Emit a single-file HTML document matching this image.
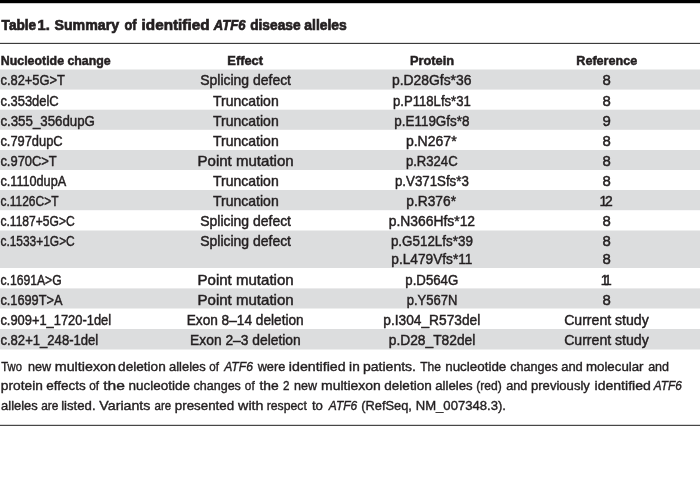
<!DOCTYPE html>
<html lang="en">
<head>
<meta charset="utf-8">
<title>Table 1. Summary of identified ATF6 disease alleles</title>
<style>
html,body{margin:0;padding:0;background:#fff;}
body{width:700px;height:495px;overflow:hidden;}
svg{display:block;will-change:transform;}
text{font-family:"Liberation Sans",sans-serif;fill:#231f20;white-space:pre;}
.t{font-size:14.8px;font-weight:bold;stroke:#231f20;stroke-width:0.7px;}
.ti{font-size:14.8px;font-weight:bold;font-style:italic;stroke:#231f20;stroke-width:0.7px;}
.h{font-size:12.6px;font-weight:bold;stroke:#231f20;stroke-width:0.5px;}
.b{font-size:13.9px;stroke:#231f20;stroke-width:0.45px;}
.f{font-size:13.3px;stroke:#231f20;stroke-width:0.4px;}
.fi{font-size:13.3px;font-style:italic;stroke:#231f20;stroke-width:0.4px;}
</style>
</head>
<body>
<svg width="700" height="495" viewBox="0 0 700 495">
<rect x="0" y="0" width="700" height="3.2" fill="#000000"/>
<rect x="0" y="42.85" width="700" height="1.1" fill="#333333"/>
<rect x="0" y="69.5" width="700" height="20.1" fill="#dcddde"/>
<rect x="0" y="109.7" width="700" height="20.1" fill="#dcddde"/>
<rect x="0" y="150" width="700" height="20" fill="#dcddde"/>
<rect x="0" y="190" width="700" height="20.2" fill="#dcddde"/>
<rect x="0" y="230.5" width="700" height="37.5" fill="#dcddde"/>
<rect x="0" y="288.4" width="700" height="20.1" fill="#dcddde"/>
<rect x="0" y="329" width="700" height="20.5" fill="#dcddde"/>
<rect x="0" y="424.8" width="700" height="1.1" fill="#333333"/>
<text class="t" x="1.62" y="29.90" textLength="34.60" lengthAdjust="spacingAndGlyphs">Table</text>
<text class="t" x="37.47" y="29.90" textLength="12.25" lengthAdjust="spacingAndGlyphs">1.</text>
<text class="t" x="54.50" y="29.90" textLength="64.57" lengthAdjust="spacingAndGlyphs">Summary</text>
<text class="t" x="124.48" y="29.90" textLength="12.10" lengthAdjust="spacingAndGlyphs">of</text>
<text class="t" x="141.63" y="29.90" textLength="67.85" lengthAdjust="spacingAndGlyphs">identified</text>
<text class="ti" x="213.87" y="29.90" textLength="31.68" lengthAdjust="spacingAndGlyphs">ATF6</text>
<text class="t" x="250.18" y="29.90" textLength="50.35" lengthAdjust="spacingAndGlyphs">disease</text>
<text class="t" x="304.30" y="29.90" textLength="42.53" lengthAdjust="spacingAndGlyphs">alleles</text>
<text class="h" x="0.82" y="64.90" textLength="109.90" lengthAdjust="spacingAndGlyphs">Nucleotide change</text>
<text class="h" x="227.32" y="64.90" textLength="35.68" lengthAdjust="spacingAndGlyphs">Effect</text>
<text class="h" x="409.93" y="64.90" textLength="44.15" lengthAdjust="spacingAndGlyphs">Protein</text>
<text class="h" x="576.33" y="64.90" textLength="60.90" lengthAdjust="spacingAndGlyphs">Reference</text>
<text class="b" x="0.43" y="85.40" textLength="64.57" lengthAdjust="spacingAndGlyphs">c.82+5G&gt;T</text>
<text class="b" x="0.43" y="105.50" textLength="58.30" lengthAdjust="spacingAndGlyphs">c.353delC</text>
<text class="b" x="0.43" y="125.60" textLength="94.45" lengthAdjust="spacingAndGlyphs">c.355_356dupG</text>
<text class="b" x="0.43" y="145.60" textLength="62.19" lengthAdjust="spacingAndGlyphs">c.797dupC</text>
<text class="b" x="0.43" y="165.70" textLength="56.27" lengthAdjust="spacingAndGlyphs">c.970C&gt;T</text>
<text class="b" x="0.43" y="185.70" textLength="65.75" lengthAdjust="spacingAndGlyphs">c.1110dupA</text>
<text class="b" x="0.43" y="205.80" textLength="58.07" lengthAdjust="spacingAndGlyphs">c.1126C&gt;T</text>
<text class="b" x="0.43" y="225.80" textLength="74.30" lengthAdjust="spacingAndGlyphs">c.1187+5G&gt;C</text>
<text class="b" x="0.43" y="246.40" textLength="74.30" lengthAdjust="spacingAndGlyphs">c.1533+1G&gt;C</text>
<text class="b" x="0.43" y="284.60" textLength="61.24" lengthAdjust="spacingAndGlyphs">c.1691A&gt;G</text>
<text class="b" x="0.43" y="304.60" textLength="62.05" lengthAdjust="spacingAndGlyphs">c.1699T&gt;A</text>
<text class="b" x="0.43" y="324.80" textLength="110.65" lengthAdjust="spacingAndGlyphs">c.909+1_1720-1del</text>
<text class="b" x="0.43" y="345.20" textLength="97.84" lengthAdjust="spacingAndGlyphs">c.82+1_248-1del</text>
<text class="b" x="200.24" y="85.40" textLength="90.76" lengthAdjust="spacingAndGlyphs">Splicing defect</text>
<text class="b" x="213.00" y="105.50" textLength="65.68" lengthAdjust="spacingAndGlyphs">Truncation</text>
<text class="b" x="213.00" y="125.60" textLength="65.68" lengthAdjust="spacingAndGlyphs">Truncation</text>
<text class="b" x="213.00" y="145.60" textLength="65.68" lengthAdjust="spacingAndGlyphs">Truncation</text>
<text class="b" x="197.50" y="165.70" textLength="96.17" lengthAdjust="spacingAndGlyphs">Point mutation</text>
<text class="b" x="213.00" y="185.70" textLength="65.68" lengthAdjust="spacingAndGlyphs">Truncation</text>
<text class="b" x="213.00" y="205.80" textLength="65.68" lengthAdjust="spacingAndGlyphs">Truncation</text>
<text class="b" x="200.24" y="225.80" textLength="90.76" lengthAdjust="spacingAndGlyphs">Splicing defect</text>
<text class="b" x="200.24" y="246.40" textLength="90.76" lengthAdjust="spacingAndGlyphs">Splicing defect</text>
<text class="b" x="197.50" y="284.60" textLength="96.17" lengthAdjust="spacingAndGlyphs">Point mutation</text>
<text class="b" x="197.50" y="304.60" textLength="96.17" lengthAdjust="spacingAndGlyphs">Point mutation</text>
<text class="b" x="186.70" y="324.80" textLength="116.98" lengthAdjust="spacingAndGlyphs">Exon 8–14 deletion</text>
<text class="b" x="190.10" y="345.20" textLength="110.58" lengthAdjust="spacingAndGlyphs">Exon 2–3 deletion</text>
<text class="b" x="391.93" y="85.40" textLength="79.52" lengthAdjust="spacingAndGlyphs">p.D28Gfs*36</text>
<text class="b" x="392.93" y="105.50" textLength="77.92" lengthAdjust="spacingAndGlyphs">p.P118Lfs*31</text>
<text class="b" x="394.32" y="125.60" textLength="75.12" lengthAdjust="spacingAndGlyphs">p.E119Gfs*8</text>
<text class="b" x="405.93" y="145.60" textLength="50.68" lengthAdjust="spacingAndGlyphs">p.N267*</text>
<text class="b" x="405.93" y="165.70" textLength="51.70" lengthAdjust="spacingAndGlyphs">p.R324C</text>
<text class="b" x="394.93" y="185.70" textLength="73.92" lengthAdjust="spacingAndGlyphs">p.V371Sfs*3</text>
<text class="b" x="406.32" y="205.80" textLength="49.68" lengthAdjust="spacingAndGlyphs">p.R376*</text>
<text class="b" x="388.72" y="225.80" textLength="86.33" lengthAdjust="spacingAndGlyphs">p.N366Hfs*12</text>
<text class="b" x="390.93" y="246.40" textLength="81.92" lengthAdjust="spacingAndGlyphs">p.G512Lfs*39</text>
<text class="b" x="391.32" y="264.20" textLength="81.12" lengthAdjust="spacingAndGlyphs">p.L479Vfs*11</text>
<text class="b" x="405.32" y="284.60" textLength="52.97" lengthAdjust="spacingAndGlyphs">p.D564G</text>
<text class="b" x="406.72" y="304.60" textLength="50.57" lengthAdjust="spacingAndGlyphs">p.Y567N</text>
<text class="b" x="383.32" y="324.80" textLength="96.95" lengthAdjust="spacingAndGlyphs">p.I304_R573del</text>
<text class="b" x="388.72" y="345.20" textLength="86.55" lengthAdjust="spacingAndGlyphs">p.D28_T82del</text>
<text class="b" x="602.55" y="85.40" textLength="8.30" lengthAdjust="spacingAndGlyphs">8</text>
<text class="b" x="602.55" y="105.50" textLength="8.30" lengthAdjust="spacingAndGlyphs">8</text>
<text class="b" x="602.55" y="125.60" textLength="8.30" lengthAdjust="spacingAndGlyphs">9</text>
<text class="b" x="602.55" y="145.60" textLength="8.30" lengthAdjust="spacingAndGlyphs">8</text>
<text class="b" x="602.55" y="165.70" textLength="8.30" lengthAdjust="spacingAndGlyphs">8</text>
<text class="b" x="602.55" y="185.70" textLength="8.30" lengthAdjust="spacingAndGlyphs">8</text>
<text class="b" x="599.50" y="205.80" textLength="13.35" lengthAdjust="spacing">12</text>
<text class="b" x="602.55" y="225.80" textLength="8.30" lengthAdjust="spacingAndGlyphs">8</text>
<text class="b" x="602.55" y="246.40" textLength="8.30" lengthAdjust="spacingAndGlyphs">8</text>
<text class="b" x="602.55" y="264.20" textLength="8.30" lengthAdjust="spacingAndGlyphs">8</text>
<text class="b" x="600.70" y="284.60" textLength="11.15" lengthAdjust="spacing">11</text>
<text class="b" x="602.55" y="304.60" textLength="8.30" lengthAdjust="spacingAndGlyphs">8</text>
<text class="b" x="564.15" y="324.80" textLength="84.62" lengthAdjust="spacingAndGlyphs">Current study</text>
<text class="b" x="564.15" y="345.20" textLength="84.62" lengthAdjust="spacingAndGlyphs">Current study</text>
<text class="f" x="1.31" y="370.70" textLength="20.70" lengthAdjust="spacingAndGlyphs">Two</text>
<text class="f" x="27.96" y="370.70" textLength="23.11" lengthAdjust="spacingAndGlyphs">new</text>
<text class="f" x="54.72" y="370.70" textLength="61.31" lengthAdjust="spacingAndGlyphs">multiexon</text>
<text class="f" x="118.09" y="370.70" textLength="47.68" lengthAdjust="spacingAndGlyphs">deletion</text>
<text class="f" x="169.00" y="370.70" textLength="36.77" lengthAdjust="spacingAndGlyphs">alleles</text>
<text class="f" x="209.24" y="370.70" textLength="9.69" lengthAdjust="spacingAndGlyphs">of</text>
<text class="fi" x="224.20" y="370.70" textLength="28.67" lengthAdjust="spacingAndGlyphs">ATF6</text>
<text class="f" x="257.67" y="370.70" textLength="27.64" lengthAdjust="spacingAndGlyphs">were</text>
<text class="f" x="288.89" y="370.70" textLength="56.68" lengthAdjust="spacingAndGlyphs">identified</text>
<text class="f" x="349.13" y="370.70" textLength="10.61" lengthAdjust="spacingAndGlyphs">in</text>
<text class="f" x="362.96" y="370.70" textLength="53.06" lengthAdjust="spacingAndGlyphs">patients.</text>
<text class="f" x="420.26" y="370.70" textLength="20.75" lengthAdjust="spacingAndGlyphs">The</text>
<text class="f" x="445.22" y="370.70" textLength="61.09" lengthAdjust="spacingAndGlyphs">nucleotide</text>
<text class="f" x="510.29" y="370.70" textLength="47.52" lengthAdjust="spacingAndGlyphs">changes</text>
<text class="f" x="561.18" y="370.70" textLength="21.65" lengthAdjust="spacingAndGlyphs">and</text>
<text class="f" x="585.94" y="370.70" textLength="57.62" lengthAdjust="spacingAndGlyphs">molecular</text>
<text class="f" x="648.13" y="370.70" textLength="20.90" lengthAdjust="spacingAndGlyphs">and</text>
<text class="f" x="0.86" y="390.30" textLength="41.97" lengthAdjust="spacingAndGlyphs">protein</text>
<text class="f" x="46.39" y="390.30" textLength="39.44" lengthAdjust="spacingAndGlyphs">effects</text>
<text class="f" x="89.34" y="390.30" textLength="9.78" lengthAdjust="spacingAndGlyphs">of</text>
<text class="f" x="103.16" y="390.30" textLength="21.74" lengthAdjust="spacingAndGlyphs">the</text>
<text class="f" x="128.47" y="390.30" textLength="61.49" lengthAdjust="spacingAndGlyphs">nucleotide</text>
<text class="f" x="193.54" y="390.30" textLength="47.33" lengthAdjust="spacingAndGlyphs">changes</text>
<text class="f" x="244.87" y="390.30" textLength="9.80" lengthAdjust="spacingAndGlyphs">of</text>
<text class="f" x="259.45" y="390.30" textLength="19.25" lengthAdjust="spacingAndGlyphs">the</text>
<text class="f" x="283.05" y="390.30" textLength="6.46" lengthAdjust="spacingAndGlyphs">2</text>
<text class="f" x="294.08" y="390.30" textLength="23.00" lengthAdjust="spacingAndGlyphs">new</text>
<text class="f" x="321.02" y="390.30" textLength="59.80" lengthAdjust="spacingAndGlyphs">multiexon</text>
<text class="f" x="384.31" y="390.30" textLength="47.43" lengthAdjust="spacingAndGlyphs">deletion</text>
<text class="f" x="435.18" y="390.30" textLength="37.48" lengthAdjust="spacingAndGlyphs">alleles</text>
<text class="f" x="476.22" y="390.30" textLength="25.47" lengthAdjust="spacingAndGlyphs">(red)</text>
<text class="f" x="506.15" y="390.30" textLength="21.11" lengthAdjust="spacingAndGlyphs">and</text>
<text class="f" x="530.98" y="390.30" textLength="58.94" lengthAdjust="spacingAndGlyphs">previously</text>
<text class="f" x="594.53" y="390.30" textLength="56.29" lengthAdjust="spacingAndGlyphs">identified</text>
<text class="fi" x="653.81" y="390.30" textLength="28.02" lengthAdjust="spacingAndGlyphs">ATF6</text>
<text class="f" x="1.08" y="409.90" textLength="36.72" lengthAdjust="spacingAndGlyphs">alleles</text>
<text class="f" x="41.23" y="409.90" textLength="17.13" lengthAdjust="spacingAndGlyphs">are</text>
<text class="f" x="61.18" y="409.90" textLength="34.41" lengthAdjust="spacingAndGlyphs">listed.</text>
<text class="f" x="99.39" y="409.90" textLength="50.98" lengthAdjust="spacingAndGlyphs">Variants</text>
<text class="f" x="154.53" y="409.90" textLength="16.62" lengthAdjust="spacingAndGlyphs">are</text>
<text class="f" x="174.76" y="409.90" textLength="59.42" lengthAdjust="spacingAndGlyphs">presented</text>
<text class="f" x="238.10" y="409.90" textLength="25.35" lengthAdjust="spacingAndGlyphs">with</text>
<text class="f" x="266.72" y="409.90" textLength="40.12" lengthAdjust="spacingAndGlyphs">respect</text>
<text class="f" x="311.94" y="409.90" textLength="11.02" lengthAdjust="spacingAndGlyphs">to</text>
<text class="fi" x="328.82" y="409.90" textLength="28.43" lengthAdjust="spacingAndGlyphs">ATF6</text>
<text class="f" x="361.22" y="409.90" textLength="50.68" lengthAdjust="spacingAndGlyphs">(RefSeq,</text>
<text class="f" x="415.75" y="409.90" textLength="90.18" lengthAdjust="spacingAndGlyphs">NM_007348.3).</text>
</svg>
</body>
</html>
